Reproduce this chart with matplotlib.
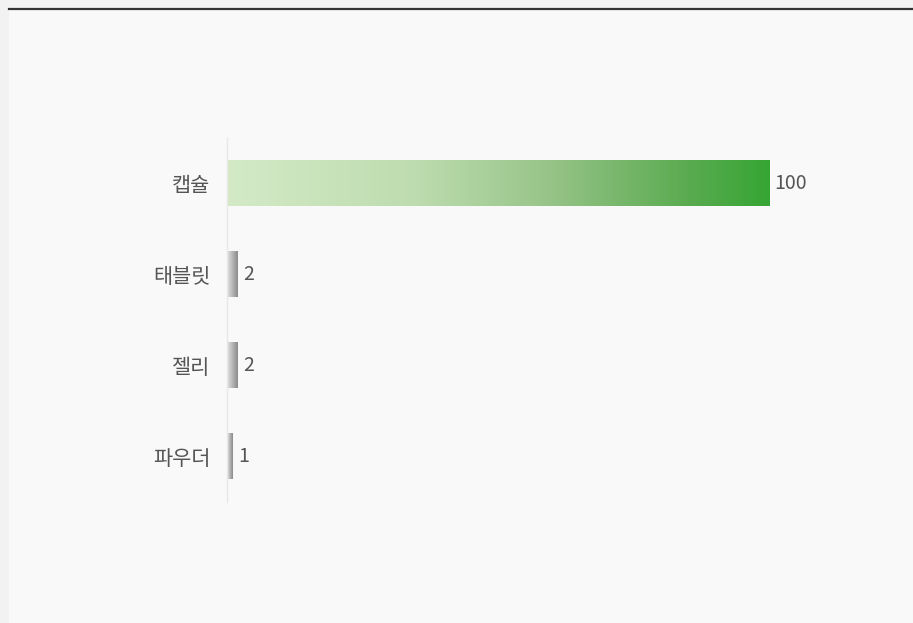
import numpy as np
import matplotlib.pyplot as plt
from matplotlib.colors import LinearSegmentedColormap
from matplotlib.patches import Rectangle
from matplotlib.lines import Line2D

plt.rcParams['font.family'] = ['Noto Sans CJK KR', 'DejaVu Sans']

# 데이터
categories = ['캡슐', '태블릿', '젤리', '파우더']
values = [100, 2, 2, 1]

W, H = 913, 623
fig = plt.figure(figsize=(W / 100, H / 100), dpi=100, facecolor='#f2f2f2')

# 패널 배경과 상단 선
fig.add_artist(Rectangle((9 / W, 0), 1 - 9 / W, 1 - 9 / H, transform=fig.transFigure,
                         facecolor='#f9f9f9', edgecolor='none', zorder=-10))
fig.add_artist(Line2D([9 / W, 1], [1 - 8.5 / H, 1 - 8.5 / H], transform=fig.transFigure,
                      color='#333333', linewidth=1.6, zorder=-5))

ax = fig.add_axes([227 / W, 1 - 502 / H, (769 - 227) / W, 364 / H])
ax.set_facecolor('none')
ax.set_zorder(1)

green = LinearSegmentedColormap.from_list('g', [(0, '#d4eac7'), (0.35, '#bddcaf'),
                                               (0.6, '#96c387'), (0.85, '#5aab50'),
                                               (1, '#36a534')])
gray = LinearSegmentedColormap.from_list('k', ['#e2e2e2', '#8a8a8a'])

y = np.arange(len(categories))
bars = ax.barh(y, values, height=0.5, color='none', edgecolor='none')
grad = np.linspace(0, 1, 256).reshape(1, -1)
for i, (b, v) in enumerate(zip(bars, values)):
    x0, y0 = b.get_x(), b.get_y()
    w, h = b.get_width(), b.get_height()
    cmap = green if i == 0 else gray
    im = ax.imshow(grad, cmap=cmap, aspect='auto', extent=(x0, x0 + w, y0 + h, y0),
                   interpolation='bilinear', zorder=2)
    ax.annotate(str(v), (x0 + w, y0 + h / 2), xytext=(4, 0), textcoords='offset points',
                ha='left', va='center', fontsize=14, color='#555555')

ax.set_xlim(0, 100)
ax.set_ylim(len(categories) - 0.5, -0.5)
ax.set_yticks(y)
ax.set_yticklabels(categories, fontsize=15, color='#555555')
ax.tick_params(axis='y', length=0, pad=12)
ax.set_xticks([])
for s in ['top', 'right', 'bottom']:
    ax.spines[s].set_visible(False)
ax.spines['left'].set_color('#e8e8e8')
ax.spines['left'].set_linewidth(1)

fig.savefig('out.png', dpi=100, facecolor=fig.get_facecolor())
